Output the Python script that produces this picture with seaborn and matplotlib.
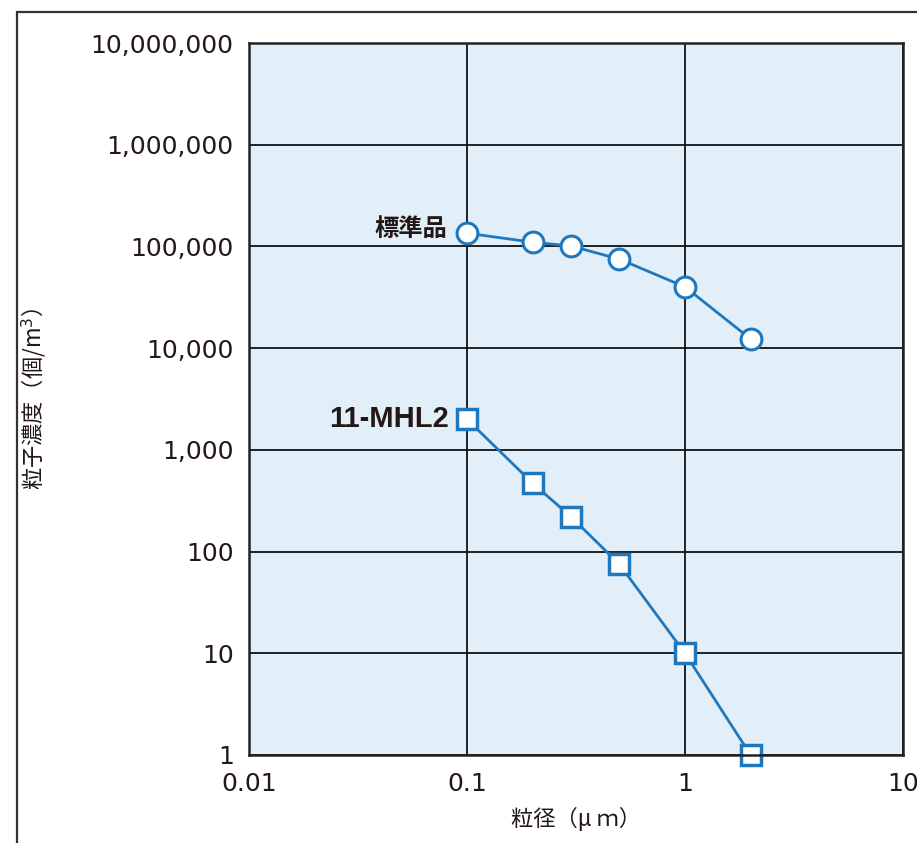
import numpy as np
import pandas as pd
import matplotlib.pyplot as plt
from matplotlib.patches import Rectangle
from matplotlib.ticker import FuncFormatter, NullLocator
import seaborn as sns

# particle size (um)
size_um = [0.1, 0.2, 0.3, 0.5, 1, 2]
# particle concentration (count / m3)
standard = [135000, 110000, 101000, 75000, 40000, 12300]
mhl2 = [2000, 470, 220, 75, 10, 1]

x_ticks = [0.01, 0.1, 1, 10]
y_ticks = [1, 10, 100, 1000, 10000, 100000, 1000000, 10000000]

sns.set_style("white")
plt.rcParams['font.family'] = ['Noto Sans CJK JP', 'DejaVu Sans']

blue = "#1f78bd"
ink = "#231815"

fig = plt.figure(figsize=(9.17, 8.43), dpi=100)
ax = fig.add_axes([249 / 917, 1 - 755 / 843, (903 - 249) / 917, (755 - 43) / 843])
ax.set_facecolor("#e2eff8")

df_std = pd.DataFrame({"size": size_um, "conc": standard})
df_mhl = pd.DataFrame({"size": size_um, "conc": mhl2})

sns.lineplot(data=df_std, x="size", y="conc", ax=ax, color=blue, lw=2,
             marker="o", markersize=15, markerfacecolor="white",
             markeredgecolor=blue, markeredgewidth=2.2, zorder=5)
sns.lineplot(data=df_mhl, x="size", y="conc", ax=ax, color=blue, lw=2,
             marker="s", markersize=15, markerfacecolor="white",
             markeredgecolor=blue, markeredgewidth=2.5, zorder=5, clip_on=False)

ax.set_xscale("log")
ax.set_yscale("log")
ax.set_xlim(0.01, 10)
ax.set_ylim(1, 10000000)
ax.set_xticks(x_ticks)
ax.set_yticks(y_ticks)
ax.xaxis.set_minor_locator(NullLocator())
ax.yaxis.set_minor_locator(NullLocator())
ax.xaxis.set_major_formatter(FuncFormatter(lambda v, p: f"{v:g}"))
ax.yaxis.set_major_formatter(FuncFormatter(lambda v, p: f"{v:,.0f}"))
ax.tick_params(axis="both", length=0, labelsize=18, labelcolor=ink)
ax.tick_params(axis="y", pad=11)
ax.tick_params(axis="x", pad=12)
for lab in ax.get_xticklabels() + ax.get_yticklabels():
    lab.set_family(['DejaVu Sans'])
ax.grid(True, which="major", color="#111111", lw=1.3)
for s in ax.spines.values():
    s.set_color("#222222")
    s.set_linewidth(1.8)
    s.set_zorder(6)

ax.set_xlabel("粒径（μ ｍ）", fontsize=16, color=ink, labelpad=8)
ax.set_ylabel("粒子濃度（個/m$^3$）", fontsize=16, color=ink)
ax.yaxis.set_label_coords(-(249 - 48) / (903 - 249), 0.5)

ax.annotate("標準品", xy=(size_um[0], standard[0]), xytext=(-14, 3),
            textcoords="offset points", ha="right", va="center",
            fontsize=17.5, fontweight="bold", color=ink)
ax.annotate("11-MHL2", xy=(size_um[0], mhl2[0]), xytext=(-13, 0),
            textcoords="offset points", ha="right", va="center",
            fontsize=21, fontweight="bold", color=ink,
            family=['Liberation Sans', 'DejaVu Sans'])

# outer frame (cropped at right and bottom in the original)
fig.patches.append(Rectangle((17 / 917, -0.05), 1.0, 1 - 12 / 843 + 0.05,
                             transform=fig.transFigure, fill=False,
                             edgecolor="#333333", lw=1.6))

fig.savefig("out.png", dpi=100)
